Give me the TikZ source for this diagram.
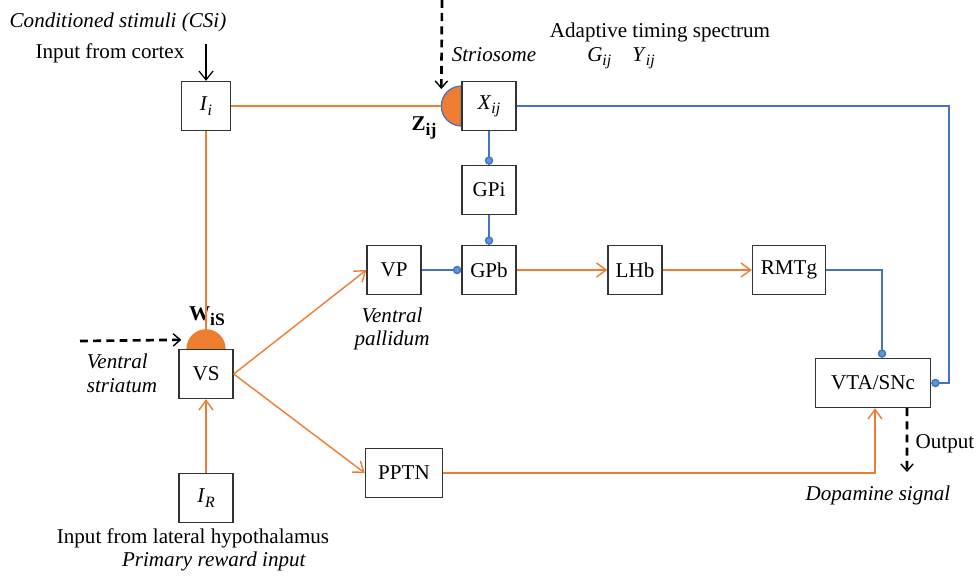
\documentclass[tikz,border=0pt]{standalone}
\usepackage{fontspec}
\setmainfont{Liberation Serif}
\usetikzlibrary{calc}
\usetikzlibrary{positioning}
\usetikzlibrary{arrows.meta}
\usetikzlibrary{backgrounds}
\definecolor{borange}{RGB}{237,125,49}
\definecolor{bblue}{RGB}{68,114,196}
\definecolor{bdot}{RGB}{91,155,213}
\newcommand{\var}[2]{\textit{#1}\raisebox{-0.45ex}{\fontsize{9}{9}\selectfont\textit{#2}}}
\newcommand{\wgt}[2]{\textbf{#1}\raisebox{-0.45ex}{\fontsize{10}{10}\selectfont\textbf{#2}}}

\begin{document}
\begin{tikzpicture}[x=0.02cm, y=-0.02cm, font=\fontsize{12}{13.5}\selectfont,
		box/.style={draw=black!80, line width=0.8pt, minimum width=1.08cm, minimum height=0.98cm, inner sep=1pt},
		excite/.style={draw=borange, line width=0.8pt, -{Straight Barb[length=5.5pt, width=8pt]}},
		plain/.style={draw=borange, line width=0.8pt},
		inhib/.style={draw=bblue, line width=0.8pt, -{Circle[length=4.8pt, fill=bdot]}},
		cue/.style={draw=black, line width=1.5pt, dash pattern=on 4.5pt off 3pt, -{Straight Barb[length=4pt, width=7pt, line width=0.8pt]}}]
	\useasboundingbox (0,0) rectangle (979,576);
	
	% boxes
	\node[box, minimum width=0.98cm] (Ii) at (206,106) {\var{I}{i}};
	\node[box] (Xij) at (489,106) {\var{X}{ij}};
	\node[box] (GPi) at (489,190) {GPi};
	\node[box] (GPb) at (489,270) {GPb};
	\node[box] (VP) at (394,270) {VP};
	\node[box] (LHb) at (635,270) {LHb};
	\node[box, minimum width=1.46cm] (RMTg) at (789,270) {RMTg};
	\node[box] (VS) at (206,374) {VS};
	\node[box] (IR) at (206,498) {\var{I}{R}};
	\node[box, minimum width=1.54cm] (PPTN) at (404,473) {PPTN};
	\node[box, minimum width=2.3cm] (VTA) at (873,383) {VTA/SNc};
	
	% synapses
	\begin{scope}[on background layer]
		\filldraw[fill=borange, draw=bblue, line width=0.7pt] ($(Xij.west)+(0,0.4cm)$) arc[start angle=90, end angle=270, radius=0.4cm] -- cycle;
		\filldraw[fill=borange, draw=borange, line width=0.7pt] ($(VS.north)+(0.38cm,0)$) arc[start angle=0, end angle=180, radius=0.38cm] -- cycle;
	\end{scope}
	\coordinate (zleft) at ($(Xij.west)+(-0.4cm,0)$);
	\coordinate (zin) at ($(Xij.west)+(-0.4cm,0.34cm)$);
	\coordinate (zsrc) at (442,0);
	\coordinate (wtop) at ($(VS.north)+(0,0.38cm)$);
	\coordinate (win) at ($(VS.north west)+(0.06cm,0.18cm)$);
	\coordinate (wsrc) at (80,341);
	\coordinate (ctxin) at (206,44);
	\coordinate (fbk) at (949,383);
	\coordinate (vtatop) at ($(VTA.north)+(0.18cm,0)$);
	\coordinate (vtabot) at ($(VTA.south)+(0.04cm,0)$);
	\coordinate (vtaout) at ($(VTA.south)+(0.68cm,0)$);
	\coordinate (outend) at (907,472);
	
	% labels
	\node (csi) at (118,22) {\textit{Conditioned stimuli (CSi)}};
	\node (ctx) at (110,53) {Input from cortex};
	\node (strio) at (494,55) {\textit{Striosome}};
	\node (ats) at (660,32) {Adaptive timing spectrum};
	\node (gy) at (621,58) {\var{G}{ij}\quad\var{Y}{ij}};
	\node (zlab) at (424,128) {\wgt{Z}{ij}};
	\node (wlab) at (207,316) {\wgt{W}{iS}};
	\node[align=left] (vslab) at (122,373) {\textit{Ventral}\\\textit{striatum}};
	\node[align=center] (vplab) at (392,329) {\textit{Ventral}\\\textit{pallidum}};
	\node (lh) at (193,538) {Input from lateral hypothalamus};
	\node (pri) at (214,561) {\textit{Primary reward input}};
	\node (outlab) at (945,444) {Output};
	\node (dop) at (878,495) {\textit{Dopamine signal}};
	
	% connections
	\draw[line width=0.7pt, -{Straight Barb[length=5pt, width=8pt]}] (ctxin) -- (Ii.north);
	\draw[cue] (zsrc) -- (zin);
	\draw[cue] (wsrc) -- (win);
	\draw[plain] (Ii.east) -- (zleft);
	\draw[plain] (Ii.south) -- (wtop);
	\draw[excite] (IR.north) -- (VS.south);
	\draw[excite] (VS.east) -- (VP.west);
	\draw[excite] (VS.east) -- (PPTN.west);
	\draw[inhib] (VP.east) -- (GPb.west);
	\draw[inhib] (Xij.south) -- (GPi.north);
	\draw[inhib] (GPi.south) -- (GPb.north);
	\draw[excite] (GPb.east) -- (LHb.west);
	\draw[excite] (LHb.east) -- (RMTg.west);
	\draw[inhib] (RMTg.east) -| (vtatop);
	\draw[inhib] (Xij.east) -| (fbk) -- (VTA.east);
	\draw[excite] (PPTN.east) -| (vtabot);
	\draw[cue] (vtaout) -- (outend);
\end{tikzpicture}
\end{document}
